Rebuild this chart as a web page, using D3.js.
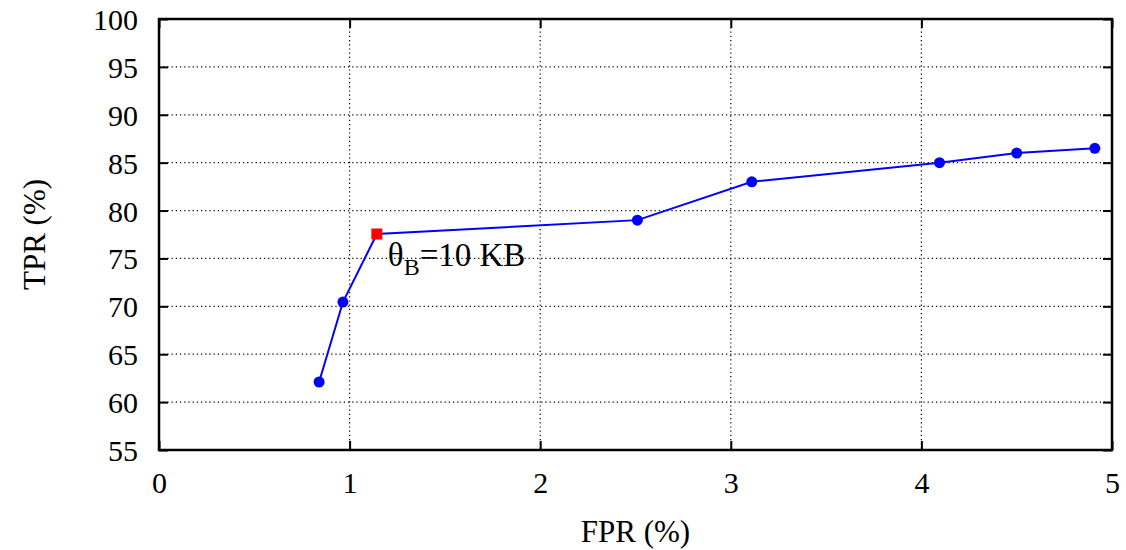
<!DOCTYPE html>
<html><head><meta charset="utf-8">
<script src="https://cdn.jsdelivr.net/npm/d3@7"></script>
<style>body{margin:0;background:#fff}svg{display:block}text{font-family:"Liberation Serif","Times New Roman",serif;fill:#000}</style>
</head><body>
<svg id="c" width="1126" height="550"></svg>
<script>
const fpr = [0.84, 0.965, 1.143, 2.51, 3.11, 4.095, 4.50, 4.91];
const tpr = [62.1, 70.45, 77.55, 79.0, 83.0, 85.0, 86.0, 86.5];
const highlightIndex = 2;
const highlightLabel = "10 KB";
const xTicks = [0, 1, 2, 3, 4, 5];
const yTicks = [55, 60, 65, 70, 75, 80, 85, 90, 95, 100];
const xLabel = "FPR (%)";
const yLabel = "TPR (%)";

const svg = d3.select("#c");
const L = 159, R = 1112, T = 19, B = 450;
const x = d3.scaleLinear().domain([0, 5]).range([L, R]);
const y = d3.scaleLinear().domain([55, 100]).range([B, T]);

// grid
const g = svg.append("g");
g.selectAll(".gx").data(xTicks.slice(1, -1)).enter().append("line")
  .attr("x1", d => x(d)).attr("x2", d => x(d)).attr("y1", T).attr("y2", B)
  .attr("stroke", "#000").attr("stroke-width", 1.2).attr("stroke-dasharray", "1.2,3");
g.selectAll(".gy").data(yTicks.slice(1, -1)).enter().append("line")
  .attr("y1", d => y(d)).attr("y2", d => y(d)).attr("x1", L).attr("x2", R)
  .attr("stroke", "#000").attr("stroke-width", 1.2).attr("stroke-dasharray", "1.2,3");

// axes with ticks inside
const tl = 9;
const ax = svg.append("g").attr("transform", `translate(0,${B})`)
  .call(d3.axisBottom(x).tickValues(xTicks).tickSize(-tl).tickPadding(22).tickFormat(d3.format("d")));
const axT = svg.append("g").attr("transform", `translate(0,${T})`)
  .call(d3.axisTop(x).tickValues(xTicks).tickSize(-tl).tickFormat(""));
const ay = svg.append("g").attr("transform", `translate(${L},0)`)
  .call(d3.axisLeft(y).tickValues(yTicks).tickSize(-tl).tickPadding(21).tickFormat(d3.format("d")));
const ayR = svg.append("g").attr("transform", `translate(${R},0)`)
  .call(d3.axisRight(y).tickValues(yTicks).tickSize(-tl).tickFormat(""));
[ax, axT, ay, ayR].forEach(a => {
  a.attr("font-family", null).attr("font-size", null);
  a.select(".domain").remove();
  a.selectAll(".tick line").attr("stroke", "#000").attr("stroke-width", 2);
  a.selectAll("text").style("font-size", "30px").style("font-family", '"Liberation Serif",serif').attr("fill", "#000");
});
ax.selectAll("text").attr("dy", "0.71em");
ay.selectAll("text").attr("dy", "0.35em");

svg.append("rect").attr("x", L).attr("y", T).attr("width", R - L).attr("height", B - T)
  .attr("fill", "none").attr("stroke", "#000").attr("stroke-width", 2.5);

// line
const pts = fpr.map((v, i) => [v, tpr[i]]);
svg.append("path").datum(pts)
  .attr("d", d3.line().x(d => x(d[0])).y(d => y(d[1])))
  .attr("fill", "none").attr("stroke", "#0000ff").attr("stroke-width", 2);
svg.selectAll(".pt").data(pts.filter((d, i) => i !== highlightIndex)).enter().append("circle")
  .attr("cx", d => x(d[0])).attr("cy", d => y(d[1])).attr("r", 5.5).attr("fill", "#0000ff");
const h = pts[highlightIndex];
svg.append("rect").attr("x", x(h[0]) - 5.5).attr("y", y(h[1]) - 5.5).attr("width", 11).attr("height", 11).attr("fill", "#ff0000");

// annotation
const ann = svg.append("text").attr("x", x(h[0]) + 11).attr("y", y(h[1]) + 32).style("font-size", "33px");
ann.append("tspan").text("θ");
ann.append("tspan").style("font-size", "24px").attr("dy", 9).text("B");
ann.append("tspan").attr("dy", -9).text("=" + highlightLabel);

// axis labels
svg.append("text").attr("x", (L + R) / 2).attr("y", 542).attr("text-anchor", "middle").style("font-size", "31px").text(xLabel);
svg.append("text").attr("transform", `translate(45,${(T + B) / 2}) rotate(-90)`).attr("text-anchor", "middle").style("font-size", "31px").text(yLabel);
</script>
</body></html>
